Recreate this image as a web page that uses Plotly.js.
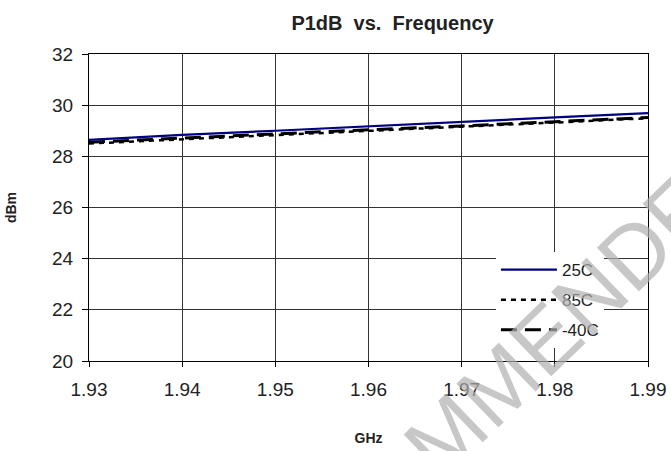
<!DOCTYPE html>
<html>
<head>
<meta charset="utf-8">
<script src="https://cdn.plot.ly/plotly-3.0.1.min.js"></script>
<style>html,body{margin:0;padding:0;background:#fff;}#chart{width:671px;height:451px;}</style>
</head>
<body>
<div id="chart"></div>
<script>
const freqGHz = [1.93, 1.94, 1.95, 1.96, 1.97, 1.98, 1.99];
const p1dB_25C = [28.64, 28.84, 29.00, 29.18, 29.35, 29.52, 29.69];
const p1dB_85C = [28.50, 28.67, 28.84, 29.00, 29.16, 29.32, 29.49];
const p1dB_m40C = [28.55, 28.72, 28.88, 29.04, 29.19, 29.35, 29.52];
const seriesNames = ["25C", "85C", "-40C"];
const xTickVals = [1.93, 1.94, 1.95, 1.96, 1.97, 1.98, 1.99];
const yTickVals = [20, 22, 24, 26, 28, 30, 32];

const FONT = "Arial, 'Liberation Sans', sans-serif";

const traces = [
  {x: freqGHz, y: p1dB_85C, name: seriesNames[1], mode: "lines", legendgroup: "b", legendrank: 2,
   line: {color: "#000000", width: 2.5, dash: "5px,5px"}},
  {x: freqGHz, y: p1dB_m40C, name: seriesNames[2], mode: "lines", legendgroup: "c", legendrank: 3,
   line: {color: "#000000", width: 3, dash: "16px,8px"}},
  {x: freqGHz, y: p1dB_25C, name: seriesNames[0], mode: "lines", legendgroup: "a", legendrank: 1,
   line: {color: "#000080", width: 2.2}}
];

const layout = {
  width: 671, height: 451,
  margin: {l: 89, r: 23, t: 54, b: 90},
  paper_bgcolor: "#ffffff", plot_bgcolor: "#ffffff",
  font: {family: FONT, color: "#222222"},
  title: {text: "<b>P1dB  vs.  Frequency</b>", font: {family: FONT, size: 20, color: "#222222"},
          x: 0.585, xanchor: "center", y: 0.95, yanchor: "middle"},
  showlegend: true,
  legend: {x: 0.728, y: 0.355, xanchor: "left", yanchor: "top", bgcolor: "#ffffff",
           borderwidth: 0, font: {family: FONT, size: 17, color: "#222222"},
           traceorder: "grouped", tracegroupgap: 5, itemwidth: 56},
  xaxis: {range: [1.93, 1.99], tickvals: xTickVals, ticktext: xTickVals.map(v => v.toFixed(2)),
          showgrid: true, gridcolor: "#333333", gridwidth: 1,
          showline: true, linecolor: "#000000", linewidth: 1, mirror: true,
          ticks: "outside", ticklen: 5, tickcolor: "#000000", ticklabelstandoff: 6,
          tickfont: {family: FONT, size: 19, color: "#222222"},
          title: {text: "<b>GHz</b>", font: {family: FONT, size: 14, color: "#222222"}, standoff: 34},
          zeroline: false},
  yaxis: {range: [20, 32], tickvals: yTickVals,
          showgrid: true, gridcolor: "#333333", gridwidth: 1,
          showline: true, linecolor: "#000000", linewidth: 1, mirror: true,
          ticks: "outside", ticklen: 6, tickcolor: "#000000", ticklabelstandoff: 5,
          tickfont: {family: FONT, size: 19, color: "#222222"},
          title: {text: "<b>dBm</b>", font: {family: FONT, size: 14, color: "#222222"}, standoff: 32},
          zeroline: false},
  annotations: [
    {text: "RECOMMENDED", xref: "paper", yref: "paper", x: 0.72, y: -0.1,
     xanchor: "center", yanchor: "middle", showarrow: false, textangle: -44,
     font: {family: FONT, size: 88, color: "rgba(175,175,175,0.7)"}}
  ]
};

Plotly.newPlot("chart", traces, layout, {displayModeBar: false, staticPlot: true});
</script>
</body>
</html>
